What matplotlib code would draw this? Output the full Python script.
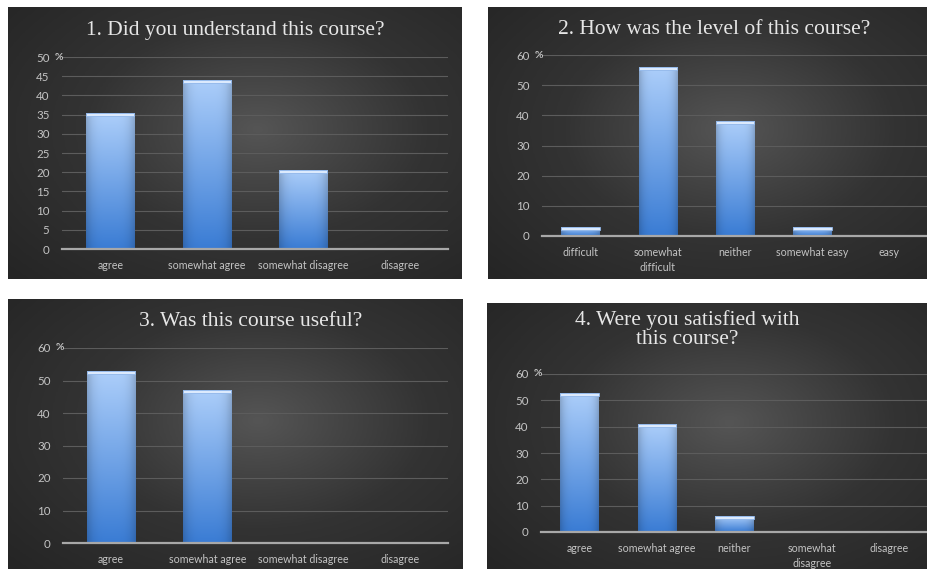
import numpy as np
import matplotlib
matplotlib.use("Agg")
import matplotlib.pyplot as plt
from matplotlib.colors import LinearSegmentedColormap

W, H = 928, 569

q1_cats = ["agree", "somewhat agree", "somewhat disagree", "disagree"]
q1_vals = [35.3, 44.1, 20.6, 0]
q2_cats = ["difficult", "somewhat\ndifficult", "neither", "somewhat easy", "easy"]
q2_vals = [2.9, 55.9, 38.2, 2.9, 0]
q3_cats = ["agree", "somewhat agree", "somewhat disagree", "disagree"]
q3_vals = [52.9, 47.1, 0, 0]
q4_cats = ["agree", "somewhat agree", "neither", "somewhat\ndisagree", "disagree"]
q4_vals = [52.9, 41.2, 5.9, 0, 0]

titles = ["1. Did you understand this course?",
          "2. How was the level of this course?",
          "3. Was this course useful?",
          "4. Were you satisfied with\nthis course?"]

# layout in pixels: panel box, plot box (x0, y0, x1, y1 from top), title centre, y axis
panels = [
    dict(cats=q1_cats, vals=q1_vals, box=(8, 7, 462, 279), plot=(62, 57, 448, 249),
         tpos=(235, 31), ymax=50, step=5),
    dict(cats=q2_cats, vals=q2_vals, box=(488, 7, 928, 279), plot=(542, 55, 928, 236),
         tpos=(714, 30), ymax=60, step=10),
    dict(cats=q3_cats, vals=q3_vals, box=(8, 299, 463, 569), plot=(63, 348, 448, 543),
         tpos=(251, 322), ymax=60, step=10),
    dict(cats=q4_cats, vals=q4_vals, box=(487, 303, 928, 569), plot=(541, 374, 928, 532),
         tpos=(687, 330), ymax=60, step=10),
]

fig = plt.figure(figsize=(W / 100, H / 100), dpi=100)
fig.patch.set_facecolor("white")


def frac(x0, y0, x1, y1):
    return [x0 / W, 1 - y1 / H, (x1 - x0) / W, (y1 - y0) / H]


bg_cmap = LinearSegmentedColormap.from_list("bg", ["#252525", "#333333", "#555555"])
top_rgb = np.array([172, 206, 250]) / 255
bot_rgb = np.array([58, 124, 212]) / 255

for p, title in zip(panels, titles):
    # background with radial shading
    bg = fig.add_axes(frac(*p["box"]))
    yy, xx = np.mgrid[0:1:200j, 0:1:300j]
    r = np.sqrt(((xx - 0.55) / 0.75) ** 2 + ((yy - 0.45) / 0.8) ** 2)
    bg.imshow(1 - np.clip(r, 0, 1), cmap=bg_cmap, extent=[0, 1, 0, 1], aspect="auto", vmin=0, vmax=1)
    bg.set_axis_off()
    fig.text(p["tpos"][0] / W, 1 - p["tpos"][1] / H, title, ha="center", va="center",
             fontsize=15.5, family="Liberation Serif", color="#e6e6e6", linespacing=1.0)

    ax = fig.add_axes(frac(*p["plot"]))
    ax.patch.set_alpha(0)
    n = len(p["cats"])
    x = np.arange(n)
    bars = ax.bar(x, p["vals"], 0.5, color="none", zorder=3)
    px_per_unit = (p["plot"][3] - p["plot"][1]) / p["ymax"]
    cap = 3.0 / px_per_unit
    gy = np.linspace(0, 1, 100)[:, None]
    gx = np.linspace(-1, 1, 40)[None, :]
    shade = 1 - 0.18 * np.abs(gx) ** 4
    grad = (top_rgb[None, None, :] * (1 - gy[..., None]) + bot_rgb[None, None, :] * gy[..., None])
    grad = np.clip(grad * shade[..., None], 0, 1)
    for xi, v, rect in zip(x, p["vals"], bars):
        if v <= 0:
            continue
        im = ax.imshow(grad, extent=[xi - 0.25, xi + 0.25, 0, v], aspect="auto", zorder=3)
        im.set_clip_path(rect)
        ax.bar(xi, cap, 0.5, bottom=v - cap, color="#dceafd", edgecolor="#8fb6ea",
               linewidth=0.6, zorder=4)

    ax.set_xlim(-0.5, n - 0.5)
    ax.set_ylim(0, p["ymax"])
    ticks = np.arange(0, p["ymax"] + 0.1, p["step"])
    ax.set_yticks(ticks)
    ax.set_yticklabels([f"{t:g}" for t in ticks])
    ax.set_xticks(x)
    ax.set_xticklabels(p["cats"])
    ax.yaxis.grid(True, color="#5c5c5c", linewidth=0.8, zorder=0)
    ax.set_axisbelow(True)
    for s in ["top", "right", "left"]:
        ax.spines[s].set_visible(False)
    ax.spines["bottom"].set_color("#a8a8a8")
    ax.spines["bottom"].set_linewidth(1.6)
    ax.spines["bottom"].set_zorder(5)
    ax.tick_params(length=0, labelcolor="#c4c4c4", labelsize=7.7)
    ax.tick_params(axis="y", labelsize=8.3, pad=9)
    ax.tick_params(axis="x", pad=8)
    for lab in ax.get_xticklabels() + ax.get_yticklabels():
        lab.set_family("Lato")
        lab.set_linespacing(1.45)
    ax.annotate("%", xy=(0, p["ymax"]), xycoords=("axes fraction", "data"),
                xytext=(-2.5, 0), textcoords="offset points", ha="center", va="center",
                fontsize=7.5, color="#c4c4c4", family="Lato", fontweight="bold")

fig.savefig("out.png", dpi=100, facecolor="white")
